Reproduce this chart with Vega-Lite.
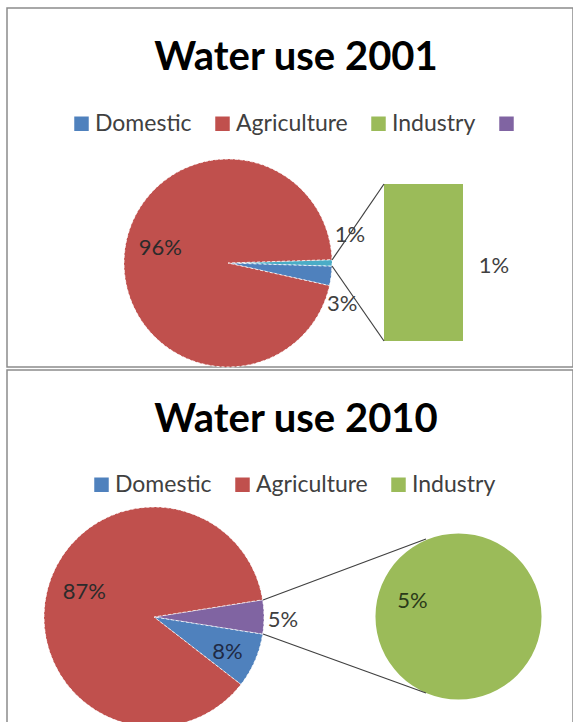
{
  "$schema": "https://vega.github.io/schema/vega-lite/v6.json",
  "background": "#ffffff",
  "padding": {"left": 6, "top": 7, "right": 0, "bottom": 0},
  "spacing": -5,
  "config": {
    "view": {"stroke": "#8c8c8c", "strokeWidth": 1.5, "fill": "#ffffff"},
    "font": "Lato",
    "legend": {"orient": "none", "direction": "horizontal", "symbolType": "square", "symbolSize": 210, "symbolStrokeWidth": 0, "labelFont": "Lato", "labelFontSize": 23, "labelColor": "#404040", "labelOffset": 2, "columnPadding": 19, "padding": 0, "labelLimit": 0},
    "title": {"font": "Lato", "fontSize": 40, "fontWeight": "bold", "color": "#000000", "anchor": "middle", "frame": "group", "baseline": "alphabetic", "offset": -70, "dx": 6}
  },
  "resolve": {"scale": {"color": "independent"}, "legend": {"color": "independent"}},
  "vconcat": [
    {
      "width": 566,
      "height": 359,
      "title": {"text": "Water use 2001"},
      "data": {"values": [
        {"category": "Industry", "slice": "Other", "pct": 0.01},
        {"category": "Domestic", "slice": "Domestic", "pct": 0.03},
        {"category": "Agriculture", "slice": "Agriculture", "pct": 0.96}
      ]},
      "layer": [
        {
          "mark": {"type": "arc", "x": 221, "y": 255, "outerRadius": 104, "stroke": "#ffffff", "strokeWidth": 0.8, "strokeDash": [3, 2]},
          "encoding": {
            "theta": {"field": "pct", "type": "quantitative", "stack": true, "scale": {"domain": [0, 1], "range": [1.539, 7.822]}},
            "order": {"field": "pct", "type": "quantitative", "sort": "ascending"},
            "color": {"field": "slice", "type": "nominal", "title": null,
              "scale": {"domain": ["Domestic", "Agriculture", "Industry", " ", "Other"], "range": ["#4F81BD", "#C0504D", "#9BBB59", "#8064A2", "#4BACC6"]},
              "legend": {"values": ["Domestic", "Agriculture", "Industry", " "], "legendX": 63, "legendY": 104}}
          }
        },
        {
          "mark": {"type": "text", "x": 221, "y": 255, "radius": 68, "dy": -9, "font": "Lato", "fontSize": 22, "color": "#2b2b2b"},
          "encoding": {
            "theta": {"field": "pct", "type": "quantitative", "stack": true},
            "order": {"field": "pct", "type": "quantitative", "sort": "ascending"},
            "detail": {"field": "slice", "type": "nominal"},
            "text": {"condition": {"test": "datum.slice === 'Agriculture'", "field": "pct", "type": "quantitative", "format": ".0%"}, "value": ""}
          }
        },
        {
          "mark": {"type": "text", "x": 221, "y": 255, "radius": 122, "dy": -28, "font": "Lato", "fontSize": 22, "color": "#404040"},
          "encoding": {
            "theta": {"field": "pct", "type": "quantitative", "stack": true},
            "order": {"field": "pct", "type": "quantitative", "sort": "ascending"},
            "detail": {"field": "slice", "type": "nominal"},
            "text": {"condition": {"test": "datum.slice === 'Other'", "field": "pct", "type": "quantitative", "format": ".0%"}, "value": ""}
          }
        },
        {
          "mark": {"type": "text", "x": 221, "y": 255, "radius": 115, "dy": 27, "font": "Lato", "fontSize": 22, "color": "#404040"},
          "encoding": {
            "theta": {"field": "pct", "type": "quantitative", "stack": true},
            "order": {"field": "pct", "type": "quantitative", "sort": "ascending"},
            "detail": {"field": "slice", "type": "nominal"},
            "text": {"condition": {"test": "datum.slice === 'Domestic'", "field": "pct", "type": "quantitative", "format": ".0%"}, "value": ""}
          }
        },
        {
          "transform": [{"filter": "datum.slice === 'Other'"}],
          "mark": {"type": "rect", "x": 377, "x2": 456},
          "encoding": {
            "y": {"field": "pct", "type": "quantitative", "scale": {"zero": true, "nice": false, "range": [333, 176]}, "axis": null},
            "y2": {"datum": 0},
            "color": {"field": "category", "type": "nominal", "title": null}
          }
        },
        {
          "transform": [{"filter": "datum.slice === 'Other'"}],
          "mark": {"type": "text", "x": 487, "y": 258, "font": "Lato", "fontSize": 22, "color": "#404040"},
          "encoding": {"text": {"field": "pct", "type": "quantitative", "format": ".0%"}}
        },
        {
          "data": {"values": [{}]},
          "mark": {"type": "rule", "color": "#404040", "strokeWidth": 1.2},
          "encoding": {"x": {"value": 325}, "y": {"value": 252}, "x2": {"value": 377}, "y2": {"value": 176}}
        },
        {
          "data": {"values": [{}]},
          "mark": {"type": "rule", "color": "#404040", "strokeWidth": 1.2},
          "encoding": {"x": {"value": 325}, "y": {"value": 258}, "x2": {"value": 377}, "y2": {"value": 333}}
        }
      ]
    },
    {
      "width": 566,
      "height": 354,
      "title": {"text": "Water use 2010"},
      "data": {"values": [
        {"category": "Industry", "slice": "Other", "pct": 0.05},
        {"category": "Domestic", "slice": "Domestic", "pct": 0.08},
        {"category": "Agriculture", "slice": "Agriculture", "pct": 0.87}
      ]},
      "resolve": {"scale": {"theta": "independent"}},
      "layer": [
        {
          "mark": {"type": "arc", "x": 147, "y": 247, "outerRadius": 110, "clip": true, "stroke": "#ffffff", "strokeWidth": 0.8, "strokeDash": [3, 2]},
          "encoding": {
            "theta": {"field": "pct", "type": "quantitative", "stack": true, "scale": {"domain": [0, 1], "range": [1.4137, 7.6969]}},
            "order": {"field": "pct", "type": "quantitative", "sort": "ascending"},
            "color": {"field": "slice", "type": "nominal", "title": null,
              "scale": {"domain": ["Domestic", "Agriculture", "Industry", "Other"], "range": ["#4F81BD", "#C0504D", "#9BBB59", "#8064A2"]},
              "legend": {"values": ["Domestic", "Agriculture", "Industry"], "legendX": 83, "legendY": 103}}
          }
        },
        {
          "mark": {"type": "text", "x": 147, "y": 247, "radius": 72, "dy": -7, "font": "Lato", "fontSize": 22, "color": "#2b2b2b"},
          "encoding": {
            "theta": {"field": "pct", "type": "quantitative", "stack": true, "scale": {"domain": [0, 1], "range": [1.4137, 7.6969]}},
            "order": {"field": "pct", "type": "quantitative", "sort": "ascending"},
            "detail": {"field": "slice", "type": "nominal"},
            "text": {"condition": {"test": "datum.slice === 'Agriculture'", "field": "pct", "type": "quantitative", "format": ".0%"}, "value": ""}
          }
        },
        {
          "mark": {"type": "text", "x": 147, "y": 247, "radius": 80, "dy": 3, "font": "Lato", "fontSize": 22, "color": "#1f2a44"},
          "encoding": {
            "theta": {"field": "pct", "type": "quantitative", "stack": true, "scale": {"domain": [0, 1], "range": [1.4137, 7.6969]}},
            "order": {"field": "pct", "type": "quantitative", "sort": "ascending"},
            "detail": {"field": "slice", "type": "nominal"},
            "text": {"condition": {"test": "datum.slice === 'Domestic'", "field": "pct", "type": "quantitative", "format": ".0%"}, "value": ""}
          }
        },
        {
          "mark": {"type": "text", "x": 147, "y": 247, "radius": 129, "dy": 3, "font": "Lato", "fontSize": 22, "color": "#404040"},
          "encoding": {
            "theta": {"field": "pct", "type": "quantitative", "stack": true, "scale": {"domain": [0, 1], "range": [1.4137, 7.6969]}},
            "order": {"field": "pct", "type": "quantitative", "sort": "ascending"},
            "detail": {"field": "slice", "type": "nominal"},
            "text": {"condition": {"test": "datum.slice === 'Other'", "field": "pct", "type": "quantitative", "format": ".0%"}, "value": ""}
          }
        },
        {
          "transform": [{"filter": "datum.slice === 'Other'"}],
          "mark": {"type": "arc", "x": 451.5, "y": 246.5, "outerRadius": 83},
          "encoding": {
            "theta": {"field": "pct", "type": "quantitative", "stack": true},
            "color": {"field": "category", "type": "nominal", "title": null}
          }
        },
        {
          "transform": [{"filter": "datum.slice === 'Other'"}],
          "mark": {"type": "text", "x": 451.5, "y": 246.5, "dx": -46, "dy": -16, "font": "Lato", "fontSize": 22, "color": "#2b3a1a"},
          "encoding": {"text": {"field": "pct", "type": "quantitative", "format": ".0%"}}
        },
        {
          "data": {"values": [{}]},
          "mark": {"type": "rule", "color": "#404040", "strokeWidth": 1.2},
          "encoding": {"x": {"value": 256}, "y": {"value": 230}, "x2": {"value": 419}, "y2": {"value": 169}}
        },
        {
          "data": {"values": [{}]},
          "mark": {"type": "rule", "color": "#404040", "strokeWidth": 1.2},
          "encoding": {"x": {"value": 256}, "y": {"value": 264}, "x2": {"value": 419}, "y2": {"value": 323}}
        }
      ]
    }
  ]
}
